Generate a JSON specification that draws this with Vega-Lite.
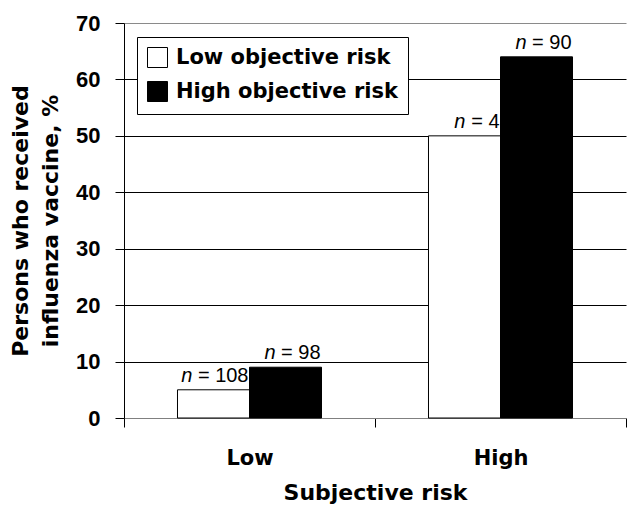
{
  "$schema": "https://vega.github.io/schema/vega-lite/v6.json",
  "autosize": {"type": "none"},
  "padding": {"left": 124, "top": 23, "right": 0, "bottom": 88},
  "width": 514,
  "height": 395,
  "background": "white",
  "config": {"view": {"stroke": null}},
  "data": {"values": [
    {"subj": "Low", "obj": "Low objective risk", "pct": 5, "n": 108},
    {"subj": "Low", "obj": "High objective risk", "pct": 9, "n": 98},
    {"subj": "High", "obj": "Low objective risk", "pct": 50, "n": 4},
    {"subj": "High", "obj": "High objective risk", "pct": 64, "n": 90}
  ]},
  "transform": [{"calculate": "'= ' + datum.n", "as": "rest"}],
  "encoding": {
    "x": {"field": "subj", "type": "nominal", "sort": ["Low", "High"],
      "scale": {"paddingInner": 0, "paddingOuter": 0, "range": [0, 502]},
      "axis": {"title": "Subjective risk", "labelAngle": 0, "tickBand": "extent",
        "tickSize": 9, "tickColor": "black", "domainColor": "#808080",
        "labelFont": "DejaVu Sans", "labelFontWeight": "bold", "labelFontSize": 21, "labelColor": "black", "labelPadding": 20,
        "titleFont": "DejaVu Sans", "titleFontWeight": "bold", "titleFontSize": 22, "titleColor": "black", "titlePadding": 14}},
    "xOffset": {"field": "obj", "type": "nominal", "sort": ["Low objective risk", "High objective risk"],
      "scale": {"paddingInner": 0, "paddingOuter": 0.743}},
    "y": {"field": "pct", "type": "quantitative",
      "scale": {"domain": [0, 70], "nice": false},
      "axis": {"values": [0, 10, 20, 30, 40, 50, 60, 70],
        "title": ["Persons who received", "influenza vaccine, %"],
        "titleFont": "DejaVu Sans", "titleFontWeight": "bold", "titleFontSize": 22, "titleColor": "black", "titleLineHeight": 30, "titlePadding": 13,
        "labelFont": "Liberation Sans", "labelFontWeight": "bold", "labelFontSize": 22, "labelColor": "black", "labelPadding": 15,
        "tickSize": 9, "tickColor": "black", "domainColor": "black",
        "grid": true, "gridColor": {"condition": {"test": "datum.value === 70 || datum.value === 0", "value": "#8a8a8a"}, "value": "black"}, "gridOpacity": 1}}
  },
  "layer": [
    {"mark": {"type": "bar", "stroke": "black", "strokeWidth": 1},
      "encoding": {"fill": {"field": "obj", "type": "nominal",
        "scale": {"domain": ["Low objective risk", "High objective risk"], "range": ["white", "black"]},
        "legend": {"title": null, "orient": "none", "legendX": 13, "legendY": 14,
          "strokeColor": "black", "fillColor": "white", "padding": 10, "rowPadding": 9,
          "symbolType": "square", "symbolSize": 400, "symbolStrokeColor": "black", "symbolStrokeWidth": 1,
          "labelFont": "DejaVu Sans", "labelFontWeight": "bold", "labelFontSize": 21, "labelColor": "black", "labelOffset": 8, "labelLimit": 400}}}},
    {"mark": {"type": "text", "align": "right", "baseline": "alphabetic", "dx": 35, "dy": -8, "font": "Liberation Sans", "fontSize": 20, "color": "black"},
      "encoding": {"text": {"field": "rest"}}},
    {"transform": [{"filter": "datum.n >= 100"}],
      "mark": {"type": "text", "align": "right", "baseline": "alphabetic", "dx": -21, "dy": -8, "font": "Liberation Sans", "fontSize": 20, "fontStyle": "italic", "color": "black"},
      "encoding": {"text": {"value": "n"}}},
    {"transform": [{"filter": "datum.n >= 10 && datum.n < 100"}],
      "mark": {"type": "text", "align": "right", "baseline": "alphabetic", "dx": -10, "dy": -8, "font": "Liberation Sans", "fontSize": 20, "fontStyle": "italic", "color": "black"},
      "encoding": {"text": {"value": "n"}}},
    {"transform": [{"filter": "datum.n < 10"}],
      "mark": {"type": "text", "align": "right", "baseline": "alphabetic", "dx": 1, "dy": -8, "font": "Liberation Sans", "fontSize": 20, "fontStyle": "italic", "color": "black"},
      "encoding": {"text": {"value": "n"}}}
  ]
}
